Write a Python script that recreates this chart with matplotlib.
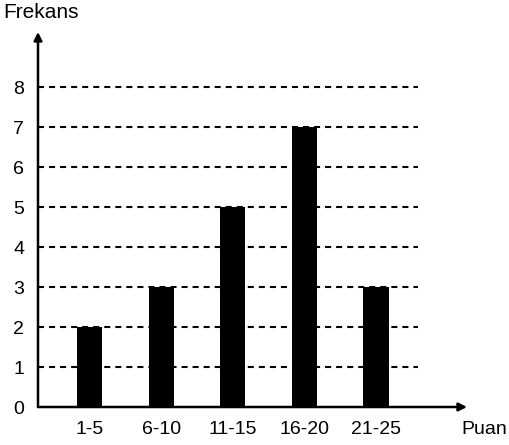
import numpy as np
import matplotlib.pyplot as plt

plt.rcParams['font.family'] = ['Liberation Sans', 'DejaVu Sans']

categories = ['1-5', '6-10', '11-15', '16-20', '21-25']
frekans = [2, 3, 5, 7, 3]
yticks = [0, 1, 2, 3, 4, 5, 6, 7, 8]

W, H = 510, 445
fig = plt.figure(figsize=(W / 100, H / 100), dpi=100)
# axes box in pixels: left 38, right 467, bottom 407 (y=0), top 32
ax = fig.add_axes([38 / W, (H - 407) / H, (467 - 38) / W, (407 - 32) / H])

x = np.arange(len(categories))
x0 = -0.719  # y axis position in data units
ax.set_xlim(x0, 5.27)
ax.set_ylim(0, 9.375)

# dashed grid lines
for v in yticks[1:]:
    ax.plot([x0, 4.59], [v, v], color='black', lw=1.5, ls=(0, (2.9, 2.4)), zorder=1)

ax.bar(x, frekans, width=0.35, color='black', zorder=2)

for s in ax.spines.values():
    s.set_visible(False)
ax.set_xticks(x)
ax.set_xticklabels(categories, fontsize=14)
ax.set_yticks(yticks)
ax.set_yticklabels([str(v) for v in yticks], fontsize=14)
ax.tick_params(axis='both', length=0)
ax.tick_params(axis='x', pad=10)
ax.tick_params(axis='y', pad=10)

# axes with arrowheads
ax.annotate('', xy=(1.0, 0), xycoords='axes fraction', xytext=(0, 0),
            arrowprops=dict(arrowstyle='-|>', color='black', lw=1.8,
                            mutation_scale=12, shrinkA=0, shrinkB=0))
ax.annotate('', xy=(0, 1.0), xycoords='axes fraction', xytext=(0, 0),
            arrowprops=dict(arrowstyle='-|>', color='black', lw=1.8,
                            mutation_scale=12, shrinkA=0, shrinkB=0))

fig.text(3 / W, 1 - 13 / H, 'Frekans', fontsize=15, va='center', ha='left')
fig.text(461 / W, 1 - 430 / H, 'Puan', fontsize=14, va='center', ha='left')

fig.savefig('out.png', dpi=100)
